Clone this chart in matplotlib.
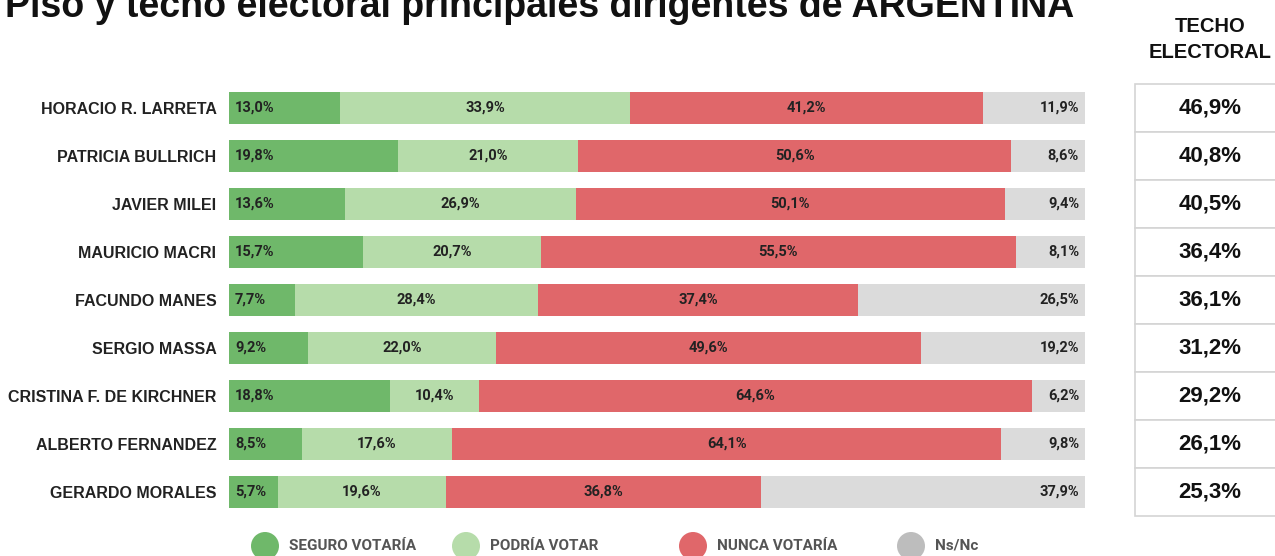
import matplotlib.pyplot as plt
from matplotlib.patches import Rectangle, Circle

names = ['HORACIO R. LARRETA', 'PATRICIA BULLRICH', 'JAVIER MILEI', 'MAURICIO MACRI',
         'FACUNDO MANES', 'SERGIO MASSA', 'CRISTINA F. DE KIRCHNER',
         'ALBERTO FERNANDEZ', 'GERARDO MORALES']
seguro = [13.0, 19.8, 13.6, 15.7, 7.7, 9.2, 18.8, 8.5, 5.7]
podria = [33.9, 21.0, 26.9, 20.7, 28.4, 22.0, 10.4, 17.6, 19.6]
nunca = [41.2, 50.6, 50.1, 55.5, 37.4, 49.6, 64.6, 64.1, 36.8]
nsnc = [11.9, 8.6, 9.4, 8.1, 26.5, 19.2, 6.2, 9.8, 37.9]
techo = [46.9, 40.8, 40.5, 36.4, 36.1, 31.2, 29.2, 26.1, 25.3]

series = [seguro, podria, nunca, nsnc]
series_names = ['SEGURO VOTARÍA', 'PODRÍA VOTAR', 'NUNCA VOTARÍA', 'Ns/Nc']
colors = ['#6fb86a', '#b6dcaa', '#e0676a', '#dbdbdb']
legend_colors = ['#6fb86a', '#b6dcaa', '#e0676a', '#bdbdbd']


def fmt(v):
    return f'{v:.1f}%'.replace('.', ',')


W, H = 1275, 556
fig = plt.figure(figsize=(W / 100, H / 100), dpi=100)
fig.patch.set_facecolor('white')

# title (partly cut at the top, as in the original)
fig.text(5 / W, 1 - 17 / H, 'Piso y techo electoral principales dirigentes de ARGENTINA',
         fontsize=27, fontweight='bold', family='Liberation Sans', color='#111111',
         ha='left', va='baseline')

# main stacked bars
ax = fig.add_axes([229 / W, 1 - 516 / H, (1085 - 229) / W, 432 / H])
y = list(range(len(names)))
left = [0.0] * len(names)
lab = dict(fontsize=10.5, fontweight='bold', family='Roboto', color='#222222', va='center')
for k, vals in enumerate(series):
    ax.barh(y, vals, left=left, height=0.66, color=colors[k], edgecolor='none')
    for i, v in enumerate(vals):
        if k == 0:
            ax.text(left[i] + 0.7, i, fmt(v), ha='left', **lab)
        elif k == 3:
            ax.text(99.3, i, fmt(v), ha='right', **lab)
        else:
            ax.text(left[i] + v / 2, i, fmt(v), ha='center', **lab)
    left = [a + b for a, b in zip(left, vals)]

ax.set_xlim(0, 100)
ax.set_ylim(len(names) - 0.5, -0.5)
ax.set_yticks(y)
ax.set_yticklabels(names, fontsize=11.5, fontweight='bold', family='Liberation Sans',
                   color='#222222')
ax.tick_params(axis='y', length=0, pad=9)
ax.set_xticks([])
for s in ax.spines.values():
    s.set_visible(False)

# techo electoral column
ax2 = fig.add_axes([1135 / W, 1 - 516 / H, (W - 1135) / W, 432 / H])
ax2.set_xlim(0, 1)
ax2.set_ylim(len(names) - 0.5, -0.5)
ax2.axis('off')
for i, v in enumerate(techo):
    ax2.add_patch(Rectangle((0, i - 0.5), 1.2, 1, facecolor='white',
                            edgecolor='#d4d4d4', lw=1.2, clip_on=False))
    ax2.text(75 / 140, i, fmt(v), ha='center', va='center', fontsize=16,
             fontweight='bold', family='Liberation Sans', color='#111111')

fig.text(1210 / W, 1 - 26 / H, 'TECHO', ha='center', va='center', fontsize=14.5,
         fontweight='bold', family='Liberation Sans', color='#111111')
fig.text(1210 / W, 1 - 53 / H, 'ELECTORAL', ha='center', va='center', fontsize=14.5,
         fontweight='bold', family='Liberation Sans', color='#111111')

# legend with circles
lg = fig.add_axes([0, 0, 1, 1], facecolor='none')
lg.set_xlim(0, W)
lg.set_ylim(H, 0)
lg.axis('off')
cx = [265, 466, 693, 911]
for k in range(4):
    lg.add_patch(Circle((cx[k], 546), 14, color=legend_colors[k], ec='none'))
    lg.text(cx[k] + 24, 546, series_names[k], ha='left', va='center', fontsize=11,
            fontweight='bold', family='Roboto', color='#555555')

fig.savefig('out.png', dpi=100, facecolor='white')
